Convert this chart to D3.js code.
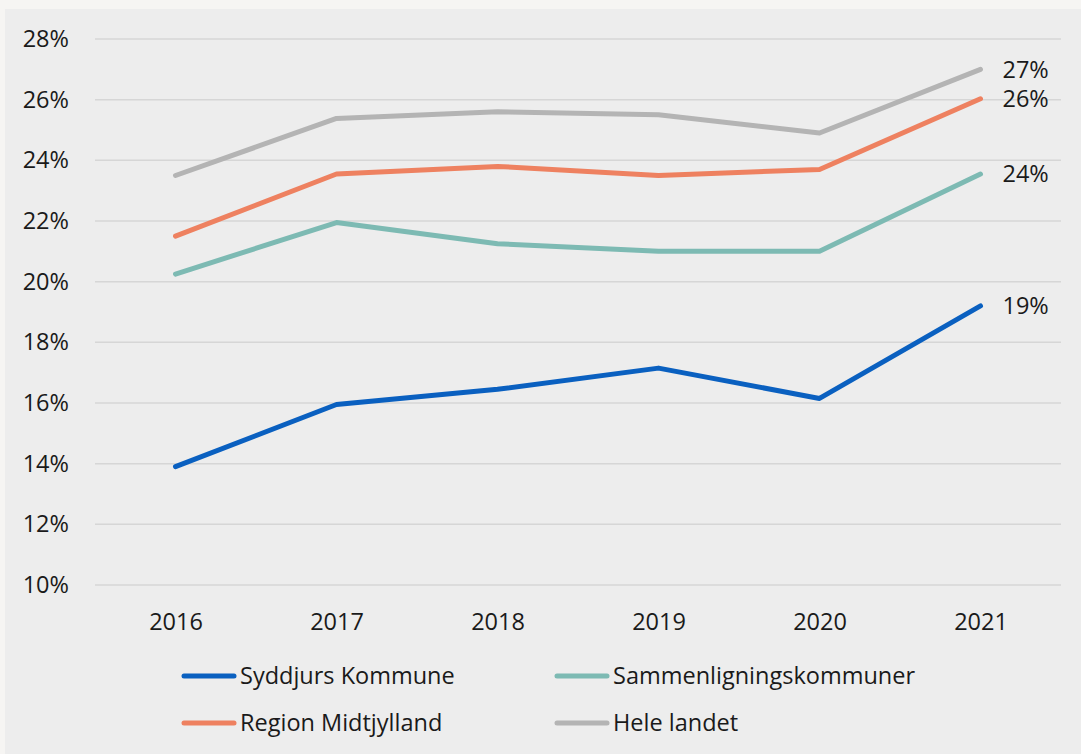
<!DOCTYPE html>
<html>
<head>
<meta charset="utf-8">
<script src="https://cdn.jsdelivr.net/npm/d3@7"></script>
<style>
  body { margin: 0; background: #f6f5f3; }
  svg { display: block; }
  text { font-family: "Open Sans", "Noto Sans", sans-serif; fill: #1a1a1a; }
</style>
</head>
<body>
<div id="chart"></div>
<script>
var years = ["2016", "2017", "2018", "2019", "2020", "2021"];
var syddjurs = [13.9, 15.95, 16.45, 17.15, 16.15, 19.2];
var sammen = [20.25, 21.95, 21.25, 21.0, 21.0, 23.55];
var region = [21.5, 23.55, 23.8, 23.5, 23.7, 26.03];
var hele = [23.5, 25.38, 25.6, 25.5, 24.9, 27.0];
var endLabels = ["19%", "24%", "26%", "27%"];
var yTicks = [10, 12, 14, 16, 18, 20, 22, 24, 26, 28];

var series = [
  { name: "Syddjurs Kommune", values: syddjurs, color: "#0a60c0", label: endLabels[0] },
  { name: "Sammenligningskommuner", values: sammen, color: "#7dbab3", label: endLabels[1] },
  { name: "Region Midtjylland", values: region, color: "#ee8160", label: endLabels[2] },
  { name: "Hele landet", values: hele, color: "#b4b4b4", label: endLabels[3] }
];

var W = 1081, H = 754, fs = 23.5;
var svg = d3.select("#chart").append("svg").attr("width", W).attr("height", H);

svg.append("rect").attr("x", 5).attr("y", 9).attr("width", W - 5).attr("height", H - 9).attr("fill", "#ededed");

var pLeft = 95, pRight = 1061, pTop = 39, pBottom = 585;

var x = d3.scalePoint().domain(years).range([pLeft, pRight]).padding(0.5);
var y = d3.scaleLinear().domain([10, 28]).range([pBottom, pTop]);

// grid
svg.append("g").selectAll("line").data(yTicks).enter().append("line")
  .attr("x1", pLeft).attr("x2", pRight)
  .attr("y1", function (d) { return y(d); }).attr("y2", function (d) { return y(d); })
  .attr("stroke", "#d6d6d6").attr("stroke-width", 1.5);

var gy = svg.append("g").attr("transform", "translate(" + (pLeft - 26) + ",0)")
  .call(d3.axisLeft(y).tickValues(yTicks).tickSize(0).tickFormat(function (d) { return d + "%"; }));
gy.select(".domain").remove();
gy.selectAll("text").attr("font-size", fs).attr("fill", "#1a1a1a").attr("x", 0);

var gx = svg.append("g").attr("transform", "translate(0," + pBottom + ")")
  .call(d3.axisBottom(x).tickSize(0));
gx.select(".domain").remove();
gx.selectAll("text").attr("font-size", fs).attr("fill", "#1a1a1a").attr("y", 0).attr("dy", "1.9em");

var line = d3.line()
  .x(function (d, i) { return x(years[i]); })
  .y(function (d) { return y(d); });

// draw grey first so blue is on top
var order = [3, 2, 1, 0];
order.forEach(function (k) {
  var s = series[k];
  svg.append("path").datum(s.values)
    .attr("d", line)
    .attr("fill", "none")
    .attr("stroke", s.color)
    .attr("stroke-width", 5)
    .attr("stroke-linecap", "round")
    .attr("stroke-linejoin", "round");
  svg.append("text")
    .attr("x", x(years[5]) + 22)
    .attr("y", y(s.values[5]))
    .attr("dy", "0.35em")
    .attr("font-size", fs)
    .text(s.label);
});

// legend
var legendPos = [
  { x: 184, y: 676 }, { x: 557, y: 676 },
  { x: 184, y: 723 }, { x: 557, y: 723 }
];
series.forEach(function (s, i) {
  var p = legendPos[i];
  svg.append("line")
    .attr("x1", p.x).attr("x2", p.x + 50)
    .attr("y1", p.y).attr("y2", p.y)
    .attr("stroke", s.color).attr("stroke-width", 5).attr("stroke-linecap", "round");
  svg.append("text")
    .attr("x", p.x + 56).attr("y", p.y).attr("dy", "0.35em")
    .attr("font-size", fs).text(s.name);
});
</script>
</body>
</html>
